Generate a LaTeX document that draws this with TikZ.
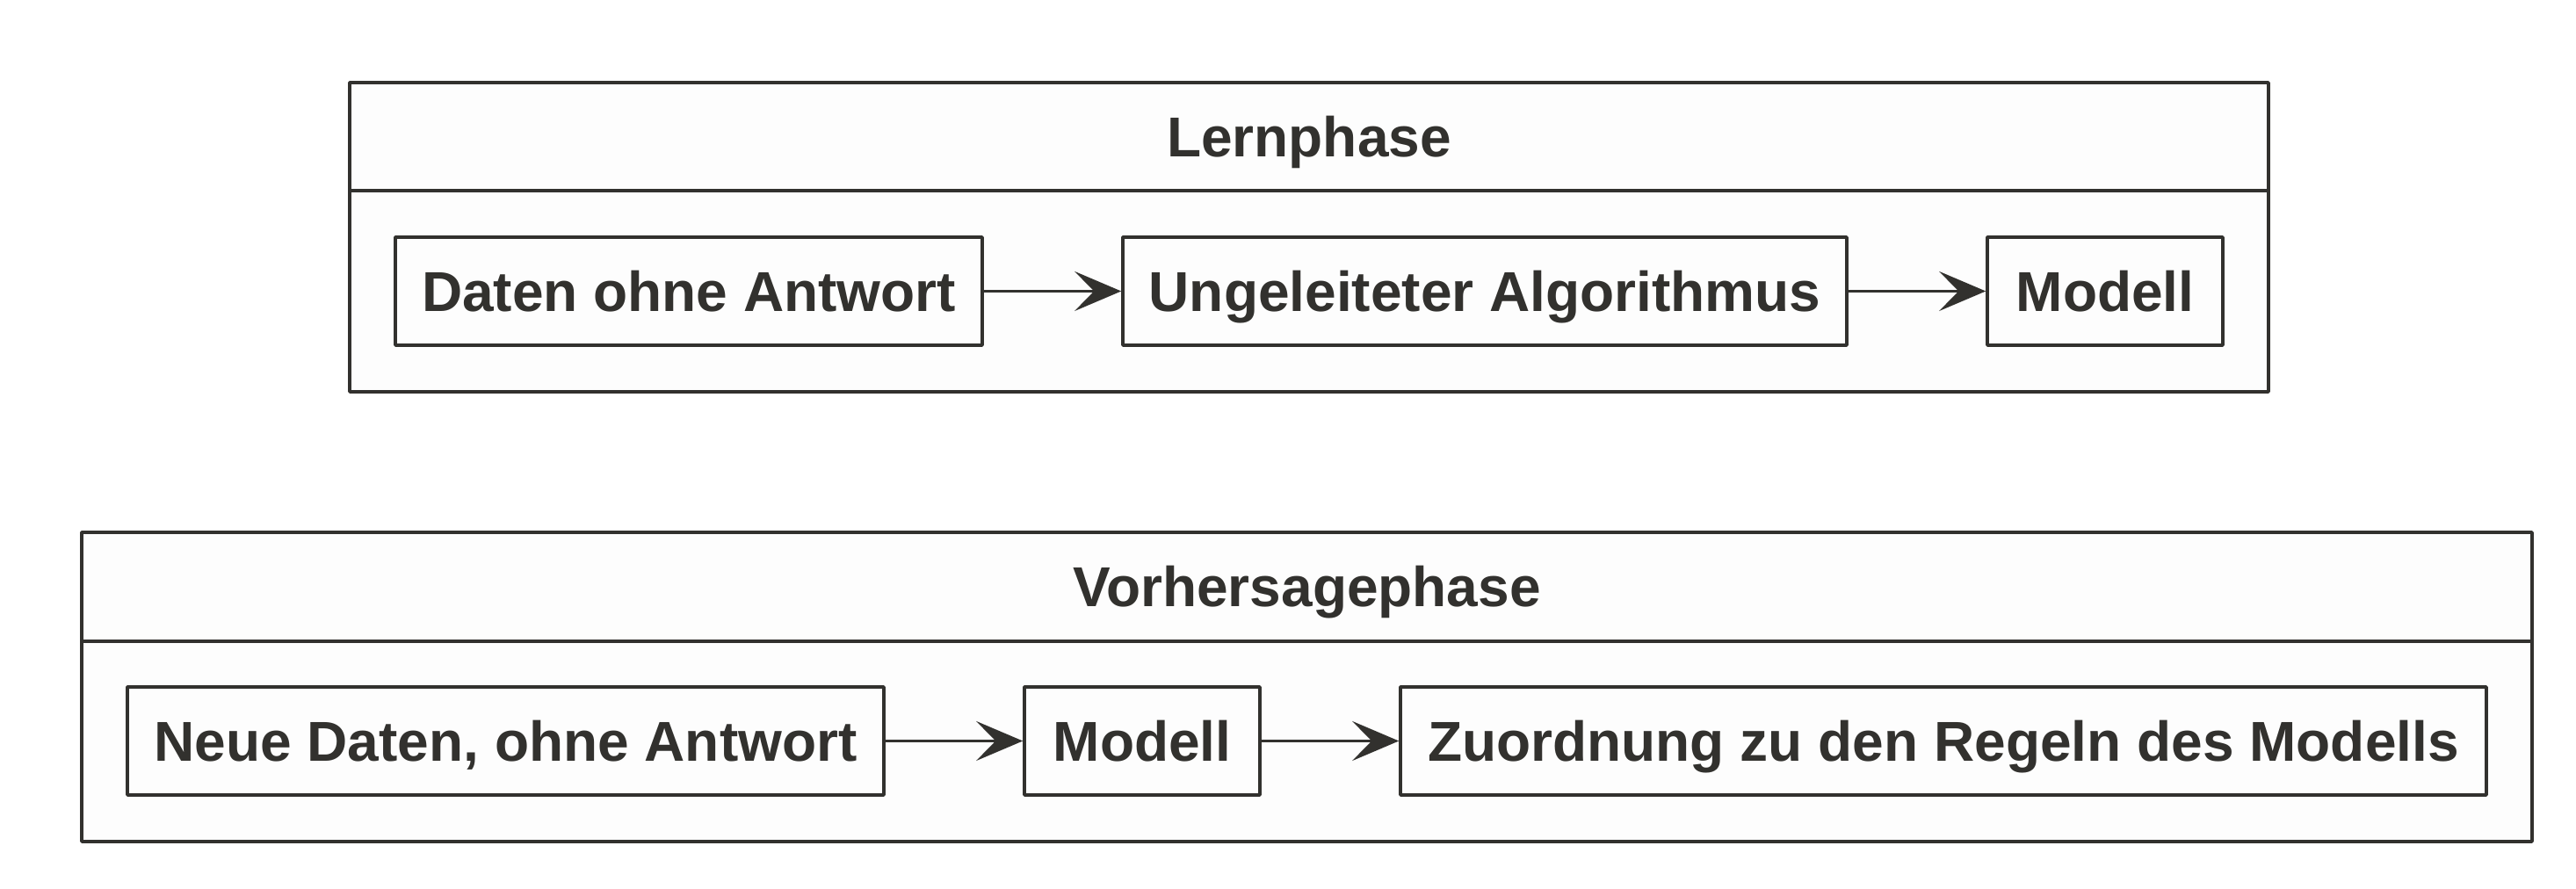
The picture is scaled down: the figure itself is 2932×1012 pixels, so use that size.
\documentclass[tikz,border=0pt]{standalone}
\usepackage{fontspec}
\setmainfont{Liberation Sans}
\usetikzlibrary{arrows.meta}
\definecolor{ink}{RGB}{50,49,46}
\definecolor{paper}{RGB}{253,253,253}

\begin{document}
\begin{tikzpicture}[
        x=0.25pt, y=-0.25pt,
        step box/.style = {rectangle, draw=ink, fill=paper, line width=0.9pt, minimum width=#1, minimum height=30.75pt, inner sep=0pt, text height=11.5pt, text depth=0pt, font=\fontsize{16}{19}\selectfont\bfseries, text=ink},
        phase/.style = {draw=ink, fill=paper, line width=0.9pt},
        title/.style = {text=ink, inner sep=0pt, text height=11.5pt, text depth=0pt, font=\fontsize{16}{19}\selectfont\bfseries},
        >={Stealth[length=13.25pt, width=11.25pt, inset=5.5pt]},
        line join=round
        ]

        \useasboundingbox (0,0) rectangle (2932,1012);

        % Lernphase
        \draw[phase] (398,94) rectangle (2582,446);
        \draw[phase] (398,217) -- (2582,217);
        \node (lern) at (1490,155.5) [title] {Lernphase};
        \node (daten) at (784,331.5)   [step box=167pt] {Daten ohne Antwort};
        \node (algo)  at (1690,331.5)  [step box=206pt] {Ungeleiteter Algorithmus};
        \node (modA)  at (2396,331.5)  [step box=67pt]  {Modell};
        \draw[->, ink, line width=0.9pt] (daten) -- (algo);
        \draw[->, ink, line width=0.9pt] (algo) -- (modA);

        % Vorhersagephase
        \draw[phase] (93,606) rectangle (2882,958);
        \draw[phase] (93,730) -- (2882,730);
        \node (vorher) at (1487.5,668) [title] {Vorhersagephase};
        \node (neu)   at (575.5,843.5) [step box=215.25pt] {Neue Daten, ohne Antwort};
        \node (modB)  at (1300,843.5)  [step box=67pt]    {Modell};
        \node (zuord) at (2212,843.5)  [step box=309pt]   {Zuordnung zu den Regeln des Modells};
        \draw[->, ink, line width=0.9pt] (neu) -- (modB);
        \draw[->, ink, line width=0.9pt] (modB) -- (zuord);

    \end{tikzpicture}
\end{document}
